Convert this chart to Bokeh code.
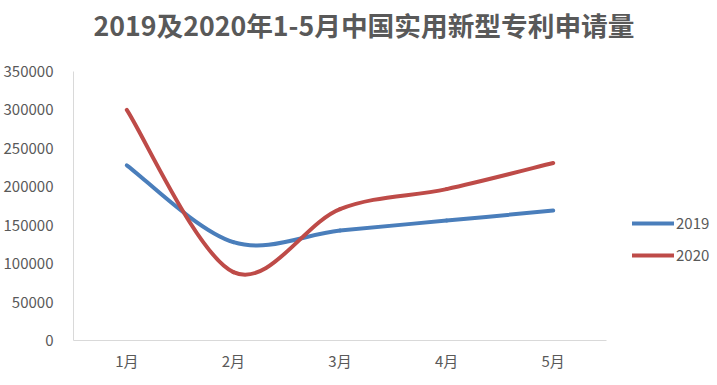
from bokeh.plotting import figure
from bokeh.models import Range1d, FixedTicker, Legend, LegendItem, ColumnDataSource, Title
from bokeh.embed import file_html
from bokeh.resources import INLINE
import numpy as np

months = ["1月", "2月", "3月", "4月", "5月"]
series_names = ["2019", "2020"]
values_2019 = [228000, 128000, 143000, 156000, 169000]
values_2020 = [300000, 89000, 171000, 197000, 231000]
y_ticks = [0, 50000, 100000, 150000, 200000, 250000, 300000, 350000]
title_text = "2019及2020年1-5月中国实用新型专利申请量"

colors = ["#4a7ebb", "#be4b48"]
grey = "#595959"
font = "Noto Sans CJK SC"

p = figure(frame_width=533, frame_height=269, output_backend="svg", toolbar_location=None,
           x_range=Range1d(-0.5, len(months) - 0.5), y_range=Range1d(0, 350000),
           min_border_left=64, min_border_right=104, min_border_top=0, min_border_bottom=29)
p.outline_line_color = None
p.grid.visible = False

# spacer between title and plot area (closest to the frame)
p.add_layout(Title(text=" ", text_font_size="1px", standoff=21), "above")
p.add_layout(Title(text=title_text, text_font=font, text_font_size="26.7px", text_font_style="bold",
                   text_color=grey, align="left", offset=20, standoff=6, vertical_align="middle"), "above")

for ax in (p.xaxis, p.yaxis):
    ax.axis_line_color = "#d9d9d9"
    ax.axis_line_width = 1
    ax.major_tick_line_color = None
    ax.minor_tick_line_color = None
    ax.major_label_text_font = font
    ax.major_label_text_font_size = "15px"
    ax.major_label_text_color = grey

p.xaxis.ticker = FixedTicker(ticks=list(range(len(months))))
p.xaxis.major_label_overrides = {i: m for i, m in enumerate(months)}
p.xaxis.major_label_standoff = 3
p.yaxis.ticker = FixedTicker(ticks=y_ticks)
p.yaxis.major_label_overrides = {t: str(t) for t in y_ticks}
p.yaxis.major_label_standoff = 14


def bezier_source(vals):
    x = np.arange(len(vals), dtype=float)
    y = np.array(vals, dtype=float)
    n = len(vals)
    xp = np.concatenate([[x[0]], x, [x[-1]]])
    yp = np.concatenate([[y[0]], y, [y[-1]]])
    d = dict(x0=[], y0=[], x1=[], y1=[], cx0=[], cy0=[], cx1=[], cy1=[])
    for i in range(n - 1):
        j = i + 1
        d["x0"].append(x[i]); d["y0"].append(y[i])
        d["x1"].append(x[i + 1]); d["y1"].append(y[i + 1])
        d["cx0"].append(x[i] + (xp[j + 1] - xp[j - 1]) / 6)
        d["cy0"].append(y[i] + (yp[j + 1] - yp[j - 1]) / 6)
        d["cx1"].append(x[i + 1] - (xp[j + 2] - xp[j]) / 6)
        d["cy1"].append(y[i + 1] - (yp[j + 2] - yp[j]) / 6)
    return ColumnDataSource(d)


items = []
for name, vals, c in zip(series_names, [values_2019, values_2020], colors):
    src = bezier_source(vals)
    r = p.bezier(x0="x0", y0="y0", x1="x1", y1="y1", cx0="cx0", cy0="cy0", cx1="cx1", cy1="cy1",
                 source=src, line_color=c, line_width=4, line_cap="round")
    items.append(LegendItem(label=name, renderers=[r]))

legend = Legend(items=items, location=(26, 75), border_line_color=None, background_fill_alpha=0,
                label_text_font=font, label_text_font_size="15px", label_text_color=grey,
                glyph_width=42, glyph_height=18, label_height=18, spacing=11, label_standoff=2,
                padding=0, margin=0)
p.add_layout(legend, "right")

open("out.html", "w").write(file_html(p, INLINE))
